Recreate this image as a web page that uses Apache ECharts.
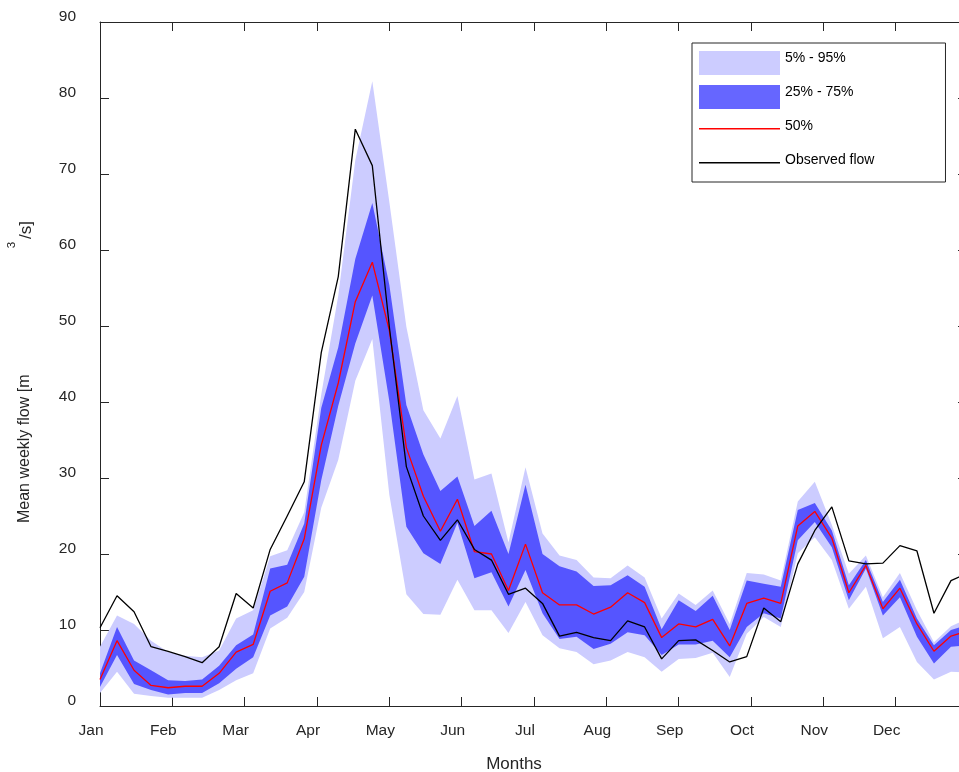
<!DOCTYPE html>
<html>
<head>
<meta charset="utf-8">
<script src="https://cdn.jsdelivr.net/npm/echarts@6/dist/echarts.min.js"></script>
<style>
html,body{margin:0;padding:0;background:#fff;overflow:hidden;width:959px;height:772px;}
#chart{width:980px;height:772px;}
</style>
</head>
<body>
<div id="chart"></div>
<script>
// ---- data (weekly values, week index 0..51) ----
const months = ['Jan','Feb','Mar','Apr','May','Jun','Jul','Aug','Sep','Oct','Nov','Dec'];
const yTicks = [0,10,20,30,40,50,60,70,80,90];

const p5 = [1.7,4.5,1.6,1.3,1.1,1.1,1.1,2.1,3.4,4.3,10.2,11.6,15.0,26.1,32.4,42.8,48.3,27.8,14.7,12.1,12.0,16.6,12.6,12.6,9.6,13.7,9.3,7.6,7.1,5.5,6.0,7.1,6.4,4.5,6.2,6.3,7.0,3.8,9.5,11.7,10.4,20.1,22.2,19.2,12.8,15.7,8.9,10.4,5.8,3.5,4.5,4.4];
const p25 = [2.5,6.7,2.9,2.1,1.5,1.7,1.7,3.0,4.9,6.4,11.9,13.1,17.0,29.7,39.5,47.7,54.0,40.1,23.6,20.1,18.7,24.1,16.8,17.6,13.1,17.9,12.2,8.8,9.1,7.5,8.2,9.7,9.3,6.7,8.1,8.1,8.6,6.4,10.4,12.2,11.5,21.8,24.2,20.9,13.9,18.1,11.9,14.3,9.1,5.6,7.8,8.0];
const p50 = [3.5,8.6,4.7,2.7,2.4,2.6,2.6,4.3,7.1,8.1,15.1,16.2,22.0,34.3,42.5,53.2,58.4,49.4,34.0,27.6,23.0,27.2,20.3,20.0,15.2,21.3,14.9,13.3,13.3,12.1,13.0,14.9,13.6,9.0,10.8,10.4,11.4,7.9,13.5,14.2,13.5,23.7,25.6,22.1,14.9,18.5,12.8,15.5,10.8,7.2,9.2,9.9];
const p75 = [4.3,10.4,6.0,4.7,3.4,3.3,3.5,5.3,8.0,9.4,18.1,18.6,24.0,39.2,47.2,58.8,66.2,55.4,39.6,33.1,28.3,30.2,23.7,25.7,20.0,29.1,20.0,18.4,17.7,15.8,15.9,17.2,15.7,10.1,13.9,12.5,14.5,10.0,16.5,16.1,15.7,25.8,26.7,23.1,15.9,19.2,13.7,16.6,11.5,8.0,10.0,10.7];
const p95 = [7.8,11.9,10.8,8.6,7.1,6.6,6.4,7.3,11.5,12.6,19.7,20.5,25.5,41.0,54.0,71.8,82.2,66.3,49.9,38.9,35.2,40.8,29.8,30.6,21.5,31.4,22.7,19.8,19.2,16.9,16.8,18.5,16.9,11.5,14.8,13.3,15.2,10.8,17.5,17.3,16.5,26.9,29.5,23.8,17.4,19.8,14.3,17.5,12.6,8.4,10.5,11.5];
const observed = [10.3,14.5,12.4,7.8,7.2,6.5,5.7,7.8,14.8,12.9,20.6,25.0,29.5,46.5,56.5,75.9,71.1,49.9,31.5,25.0,21.8,24.5,20.6,19.2,14.7,15.5,13.5,9.2,9.7,9.0,8.6,11.2,10.4,6.2,8.6,8.7,7.3,5.8,6.5,12.9,11.1,18.7,23.1,26.2,19.1,18.7,18.8,21.1,20.4,12.2,16.5,17.5];

const weeksPerMonth = 4.25;
const lastWeek = observed.length - 1;

const pairs = arr => arr.map((v, i) => [i, v]);
const bandData = (lo, hi) => lo.map((v, i) => [i, v, hi[i]]);

const txt = '#262626';
const font = 'Liberation Sans, Arial, Helvetica, sans-serif';

// band drawn as one polygon through the cartesian coordinate system
function bandRenderer(lo, hi, fill) {
  return function (params, api) {
    if (params.dataIndex !== 0) return null;
    const pts = [];
    for (let i = 0; i < hi.length; i++) pts.push(api.coord([i, hi[i]]));
    for (let i = lo.length - 1; i >= 0; i--) pts.push(api.coord([i, lo[i]]));
    return {type: 'polygon', shape: {points: pts}, style: {fill: fill, stroke: null}, silent: true};
  };
}

const chart = echarts.init(document.getElementById('chart'), null, {renderer: 'canvas'});

const linePathIcon = 'path://M0,0L0.05,0L0.05,0.05Z M0,9L81,9L81,10.4L0,10.4Z M0,23.95L0.05,23.95L0.05,24Z';

const option = {
  animation: false,
  backgroundColor: '#ffffff',
  textStyle: {fontFamily: font, color: txt},
  grid: {left: 100, right: 12, top: 22, bottom: 66, containLabel: false, outerBoundsMode: 'none'},
  legend: {
    orient: 'vertical',
    left: 692, top: 43,
    align: 'left',
    itemWidth: 81, itemHeight: 24, itemGap: 10,
    padding: [8, 71, 5, 7],
    borderColor: '#262626', borderWidth: 1,
    backgroundColor: '#ffffff',
    selectedMode: false,
    formatter: name => '{a|' + name + '}\n{b|}',
    textStyle: {
      fontFamily: font, fontSize: 14, color: '#000',
      rich: {a: {fontFamily: font, fontSize: 14, color: '#000', lineHeight: 14}, b: {lineHeight: 10, fontSize: 4}}
    },
    data: [
      {name: '5% - 95%', icon: 'rect', itemStyle: {color: '#ccccff', borderWidth: 0}},
      {name: '25% - 75%', icon: 'rect', itemStyle: {color: '#6666ff', borderWidth: 0}},
      {name: '50%', icon: linePathIcon, itemStyle: {color: '#ff0000', borderWidth: 0}},
      {name: 'Observed flow', icon: linePathIcon, itemStyle: {color: '#000000', borderWidth: 0}}
    ]
  },
  xAxis: [
    {
      type: 'value', min: 0, max: lastWeek, interval: weeksPerMonth,
      position: 'bottom',
      axisLine: {show: true, onZero: false, lineStyle: {color: txt, width: 1}},
      axisTick: {show: true, inside: true, length: 9, lineStyle: {color: txt}},
      splitLine: {show: false},
      axisLabel: {
        show: true, margin: 17, fontSize: 15.5, color: txt, fontFamily: font,
        padding: [0, 18, 0, 0],
        showMaxLabel: false,
        formatter: v => { const i = Math.round(v / weeksPerMonth); return i < months.length ? months[i] : ''; }
      },
      name: 'Months', nameLocation: 'middle', nameGap: 50,
      nameTextStyle: {fontSize: 17, color: txt, fontFamily: font, padding: [0, 40, 0, 0]}
    },
    {
      type: 'value', min: 0, max: lastWeek, interval: weeksPerMonth,
      position: 'top',
      axisLine: {show: true, onZero: false, lineStyle: {color: txt, width: 1}},
      axisTick: {show: true, inside: true, length: 9, lineStyle: {color: txt}},
      splitLine: {show: false},
      axisLabel: {show: false}
    }
  ],
  yAxis: [
    {
      type: 'value', min: yTicks[0], max: yTicks[yTicks.length - 1], interval: 10,
      position: 'left',
      axisLine: {show: true, onZero: false, lineStyle: {color: txt, width: 1}},
      axisTick: {show: true, inside: true, length: 9, lineStyle: {color: txt}},
      splitLine: {show: false},
      axisLabel: {show: true, margin: 24, fontSize: 15.5, color: txt, fontFamily: font, verticalAlign: 'bottom', lineHeight: 10}
    },
    {
      type: 'value', min: yTicks[0], max: yTicks[yTicks.length - 1], interval: 10,
      position: 'right',
      axisLine: {show: true, onZero: false, lineStyle: {color: txt, width: 1}},
      axisTick: {show: true, inside: true, length: 10, lineStyle: {color: txt}},
      splitLine: {show: false},
      axisLabel: {show: false}
    }
  ],
  series: [
    {
      name: '5% - 95%', type: 'custom', data: bandData(p5, p95),
      renderItem: bandRenderer(p5, p95, '#ccccff'),
      itemStyle: {color: '#ccccff'}, silent: true, z: 1,
      encode: {x: 0, y: [1, 2]}
    },
    {
      name: '25% - 75%', type: 'custom', data: bandData(p25, p75),
      renderItem: bandRenderer(p25, p75, '#5555ff'),
      itemStyle: {color: '#6666ff'}, silent: true, z: 2,
      encode: {x: 0, y: [1, 2]}
    },
    {
      name: '50%', type: 'line', data: pairs(p50),
      symbol: 'none', silent: true,
      itemStyle: {color: '#ff0000'},
      lineStyle: {color: '#ff0000', width: 1.3}, z: 3
    },
    {
      name: 'Observed flow', type: 'line', data: pairs(observed),
      symbol: 'none', silent: true,
      itemStyle: {color: '#000000'},
      lineStyle: {color: '#000000', width: 1.3}, z: 4
    }
  ],
  graphic: [
    {type: 'text', x: 25, y: 523, rotation: Math.PI / 2, silent: true,
     style: {text: 'Mean weekly flow [m', fontSize: 16, fontFamily: font, fill: txt, align: 'left', verticalAlign: 'middle'}},
    {type: 'text', x: 12, y: 245, rotation: Math.PI / 2, silent: true,
     style: {text: '3', fontSize: 11.5, fontFamily: font, fill: txt, align: 'center', verticalAlign: 'middle'}},
    {type: 'text', x: 26, y: 239, rotation: Math.PI / 2, silent: true,
     style: {text: '/s]', fontSize: 17, fontFamily: font, fill: txt, align: 'left', verticalAlign: 'middle'}}
  ]
};

chart.setOption(option);
</script>
</body>
</html>
